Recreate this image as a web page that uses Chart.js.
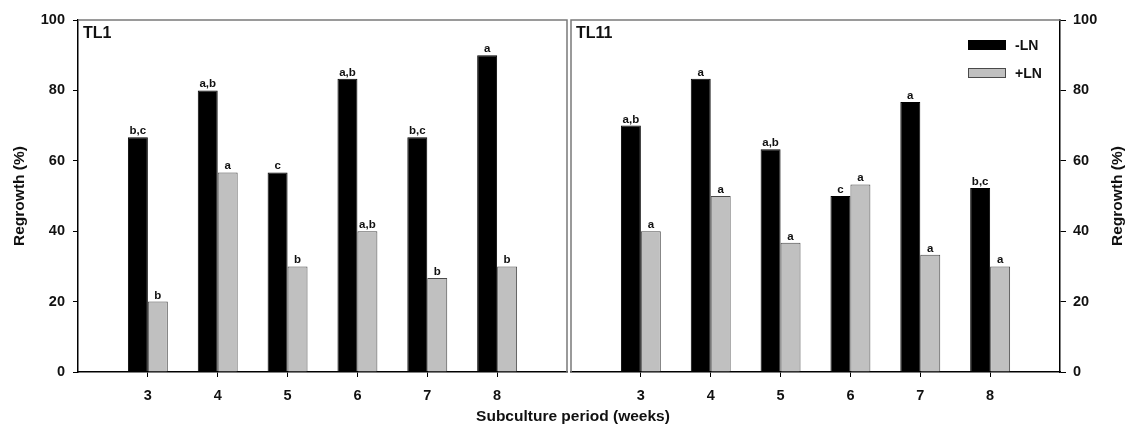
<!DOCTYPE html>
<html>
<head>
<meta charset="utf-8">
<title>Regrowth</title>
<script src="https://cdn.jsdelivr.net/npm/chart.js@4.4.0/dist/chart.umd.min.js"></script>
<style>
      html, body { margin: 0; padding: 0; background: #fff; }
      #wrap { position: relative; width: 1132px; height: 426px; overflow: hidden; }
      #left_chart { position: absolute; left: 0; top: 0; }
      #right_chart { position: absolute; left: 566px; top: 0; }
      #x_title {
            position: absolute; left: 0; width: 1146px; top: 407px;
            text-align: center; line-height: 18px; color: #111;
            font: bold 15.5px 'Liberation Sans', Arial, sans-serif;
      }
</style>
</head>
<body>
<div id="wrap">
      <canvas id="left_chart" width="570" height="426"></canvas>
      <canvas id="right_chart" width="566" height="426"></canvas>
      <div id="x_title">Subculture period (weeks)</div>
</div>
<script>
// values
const weeks = [3, 4, 5, 6, 7, 8];

const tl1_minus = [66.7, 80, 56.7, 83.3, 66.7, 90];
const tl1_plus = [20, 56.7, 30, 40, 26.7, 30];
const tl1_minus_sig = ['b,c', 'a,b', 'c', 'a,b', 'b,c', 'a'];
const tl1_plus_sig = ['b', 'a', 'b', 'a,b', 'b', 'b'];

const tl11_minus = [70, 83.3, 63.3, 50, 76.7, 52.3];
const tl11_plus = [40, 50, 36.7, 53.3, 33.3, 30];
const tl11_minus_sig = ['a,b', 'a', 'a,b', 'c', 'a', 'b,c'];
const tl11_plus_sig = ['a', 'a', 'a', 'a', 'a', 'a'];

const y_ticks = [0, 20, 40, 60, 80, 100];
const y_title = 'Regrowth (%)';

const FONT = "'Liberation Sans', Arial, sans-serif";
const FRAME_GRAY = '#7a7a7a';

function panelPlugin(name, minus_sig, plus_sig, side, show_legend)
{
      return {
            id: 'panel_extra',
            afterDatasetsDraw: function (chart)
            {
                  const ctx = chart.ctx;
                  const area = chart.chartArea;

                  // grey frame on the two open sides
                  ctx.save();
                  ctx.strokeStyle = FRAME_GRAY;
                  ctx.lineWidth = 1.5;
                  ctx.beginPath();
                  if (side === 'left')
                  {
                        ctx.moveTo(area.left, area.top);
                        ctx.lineTo(area.right, area.top);
                        ctx.lineTo(area.right, area.bottom);
                  }
                  else
                  {
                        ctx.moveTo(area.left, area.bottom);
                        ctx.lineTo(area.left, area.top);
                        ctx.lineTo(area.right, area.top);
                  }
                  ctx.stroke();

                  // letters above bars
                  ctx.fillStyle = '#111';
                  ctx.font = 'bold 11.5px ' + FONT;
                  ctx.textAlign = 'center';
                  ctx.textBaseline = 'alphabetic';
                  const sigs = [minus_sig, plus_sig];
                  for (let d = 0; d < 2; d++)
                  {
                        const meta = chart.getDatasetMeta(d);
                        meta.data.forEach(function (bar, i)
                        {
                              ctx.fillText(sigs[d][i], bar.x, bar.y - 3);
                        });
                  }

                  // panel name
                  ctx.font = 'bold 16px ' + FONT;
                  ctx.textAlign = 'left';
                  ctx.textBaseline = 'middle';
                  ctx.fillText(name, area.left + 5, area.top + 14);

                  if (show_legend)
                  {
                        const ds = chart.data.datasets;
                        const lx = area.left + 397;
                        const rows = [area.top + 25, area.top + 53];
                        ctx.font = 'bold 14px ' + FONT;
                        for (let d = 0; d < ds.length; d++)
                        {
                              ctx.fillStyle = ds[d].backgroundColor;
                              ctx.fillRect(lx, rows[d] - 5, 38, 10);
                              ctx.strokeStyle = ds[d].borderColor;
                              ctx.lineWidth = 1;
                              ctx.strokeRect(lx + 0.5, rows[d] - 4.5, 37, 9);
                              ctx.fillStyle = '#111';
                              ctx.fillText(ds[d].label, lx + 47, rows[d] + 1);
                        }

                        // right-hand axis title reads bottom to top, like the left one
                        ctx.save();
                        ctx.translate(chart.width - 14, (area.top + area.bottom) / 2);
                        ctx.rotate(-Math.PI / 2);
                        ctx.font = 'bold 15.5px ' + FONT;
                        ctx.textAlign = 'center';
                        ctx.textBaseline = 'middle';
                        ctx.fillText(y_title, 0, 0);
                        ctx.restore();
                  }
                  ctx.restore();
            }
      };
}

function buildPanel(canvas_id, minus_values, plus_values, minus_sig, plus_sig, name, side)
{
      const tick_font = { family: FONT, size: 14.5, weight: 'bold' };

      const config_data = {
            datasets: [{
                  label: '-LN',
                  data: weeks.map((w, i) => ({ x: w, y: minus_values[i] })),
                  backgroundColor: '#000000',
                  borderColor: '#000000',
                  borderWidth: 1,
                  categoryPercentage: 40 / 70,
                  barPercentage: 1
            }, {
                  label: '+LN',
                  data: weeks.map((w, i) => ({ x: w, y: plus_values[i] })),
                  backgroundColor: '#c0c0c0',
                  borderColor: '#4a4a4a',
                  borderWidth: 1,
                  categoryPercentage: 40 / 70,
                  barPercentage: 1
            }]
      };

      const config = {
            type: 'bar',
            data: config_data,
            options: {
                  responsive: false,
                  animation: false,
                  devicePixelRatio: 1,
                  layout: {
                        padding: side === 'left'
                              ? { left: 0, right: 3, top: 20, bottom: 0 }
                              : { left: 5, right: 0, top: 20, bottom: 0 }
                  },
                  scales: {
                        x: {
                              type: 'linear',
                              min: 2,
                              max: 9,
                              offset: false,
                              afterBuildTicks: function (scale)
                              {
                                    scale.ticks = weeks.map(w => ({ value: w }));
                              },
                              afterFit: function (scale)
                              {
                                    scale.height = 54;
                              },
                              ticks: {
                                    font: tick_font,
                                    color: '#111',
                                    padding: 10,
                                    autoSkip: false,
                                    maxRotation: 0,
                                    callback: v => String(v)
                              },
                              grid: { offset: false, drawOnChartArea: false, drawTicks: true, tickLength: 5, color: '#000', lineWidth: 1 },
                              border: { display: true, color: '#000', width: 1.5 }
                        },
                        y: {
                              position: side,
                              min: 0,
                              max: 100,
                              afterBuildTicks: function (scale)
                              {
                                    scale.ticks = y_ticks.map(v => ({ value: v }));
                              },
                              afterFit: function (scale)
                              {
                                    scale.width = side === 'left' ? 78 : 72;
                              },
                              ticks: {
                                    font: tick_font,
                                    color: '#111',
                                    padding: side === 'left' ? 8 : 7
                              },
                              grid: { drawOnChartArea: false, drawTicks: true, tickLength: side === 'left' ? 5 : 6, color: '#000', lineWidth: 1 },
                              border: { display: true, color: '#000', width: 1.5 },
                              title: {
                                    display: side === 'left',
                                    text: y_title,
                                    color: '#111',
                                    font: { family: FONT, size: 15.5, weight: 'bold' },
                                    padding: { top: 10, bottom: 0 }
                              }
                        }
                  },
                  plugins: {
                        legend: { display: false },
                        tooltip: { enabled: false }
                  }
            },
            plugins: [panelPlugin(name, minus_sig, plus_sig, side, side === 'right')]
      };

      return new Chart(document.getElementById(canvas_id), config);
}

buildPanel('left_chart', tl1_minus, tl1_plus, tl1_minus_sig, tl1_plus_sig, 'TL1', 'left');
buildPanel('right_chart', tl11_minus, tl11_plus, tl11_minus_sig, tl11_plus_sig, 'TL11', 'right');
</script>
</body>
</html>
